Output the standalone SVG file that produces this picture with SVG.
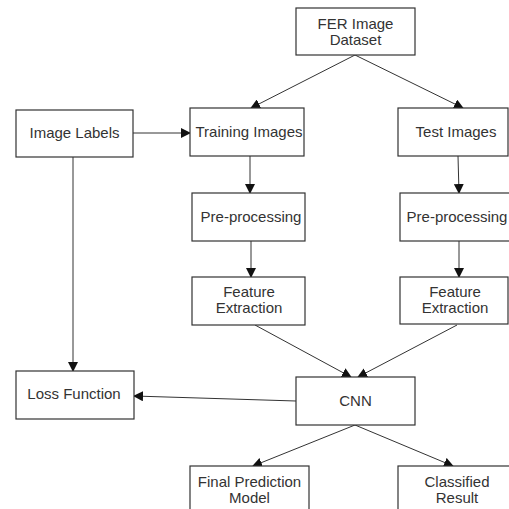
<svg xmlns="http://www.w3.org/2000/svg" width="509" height="509" viewBox="0 0 509 509">
<style>
.box{fill:#fff;stroke:#333;stroke-width:1.2}
.t{font-family:"Liberation Sans",Arial,sans-serif;font-size:15px;fill:#333;text-anchor:middle}
.c{stroke:#333;stroke-width:1;fill:none;marker-end:url(#ah)}
</style>
<defs>
<marker id="ah" markerWidth="10" markerHeight="10" refX="9" refY="5" orient="auto" markerUnits="userSpaceOnUse">
<path d="M0,0 L10,5 L0,10 Z" fill="#111"/>
</marker>
</defs>
<rect width="509" height="509" fill="#fff"/>
<g id="connectors">
<line class="c" x1="355" y1="55" x2="251" y2="108"/>
<line class="c" x1="355" y1="55" x2="463" y2="108"/>
<line class="c" x1="133" y1="133" x2="190" y2="133"/>
<line class="c" x1="250" y1="156" x2="250" y2="193"/>
<line class="c" x1="458" y1="156" x2="459" y2="193"/>
<line class="c" x1="251" y1="241" x2="251" y2="277"/>
<line class="c" x1="459" y1="241" x2="459" y2="277"/>
<line class="c" x1="73" y1="157" x2="73" y2="371"/>
<line class="c" x1="255" y1="325" x2="351" y2="377"/>
<line class="c" x1="457" y1="325" x2="358" y2="377"/>
<line class="c" x1="296" y1="401" x2="134" y2="396"/>
<line class="c" x1="355" y1="425" x2="253" y2="466"/>
<line class="c" x1="355" y1="425" x2="453" y2="466"/>
</g>
<g id="fer"><rect class="box" x="296" y="8" width="119" height="47"/><text class="t" x="355.5" y="29">FER Image</text><text class="t" x="355.5" y="45">Dataset</text></g>
<g id="labels"><rect class="box" x="16" y="110" width="117" height="47"/><text class="t" x="74.5" y="138">Image Labels</text></g>
<g id="train"><rect class="box" x="190" y="108" width="114" height="48"/><text class="t" x="249" y="137">Training Images</text></g>
<g id="test"><rect class="box" x="398" y="108" width="110" height="48"/><text class="t" x="456" y="137">Test Images</text></g>
<g id="pre1"><rect class="box" x="192" y="193" width="113" height="48"/><text class="t" x="251" y="222">Pre-processing</text></g>
<g id="pre2"><rect class="box" x="400" y="193" width="115" height="48"/><text class="t" x="457" y="222">Pre-processing</text></g>
<g id="fe1"><rect class="box" x="192" y="277" width="113" height="48"/><text class="t" x="249" y="297">Feature</text><text class="t" x="249" y="313">Extraction</text></g>
<g id="fe2"><rect class="box" x="400" y="277" width="108" height="47"/><text class="t" x="455" y="297">Feature</text><text class="t" x="455" y="313">Extraction</text></g>
<g id="cnn"><rect class="box" x="296" y="377" width="119" height="48"/><text class="t" x="355.5" y="406">CNN</text></g>
<g id="loss"><rect class="box" x="16" y="371" width="118" height="48"/><text class="t" x="74" y="399">Loss Function</text></g>
<g id="final"><rect class="box" x="190" y="466" width="119" height="50"/><text class="t" x="249.5" y="487">Final Prediction</text><text class="t" x="249.5" y="503">Model</text></g>
<g id="classified"><rect class="box" x="398" y="466" width="115" height="50"/><text class="t" x="457" y="487">Classified</text><text class="t" x="457" y="503">Result</text></g>
</svg>
